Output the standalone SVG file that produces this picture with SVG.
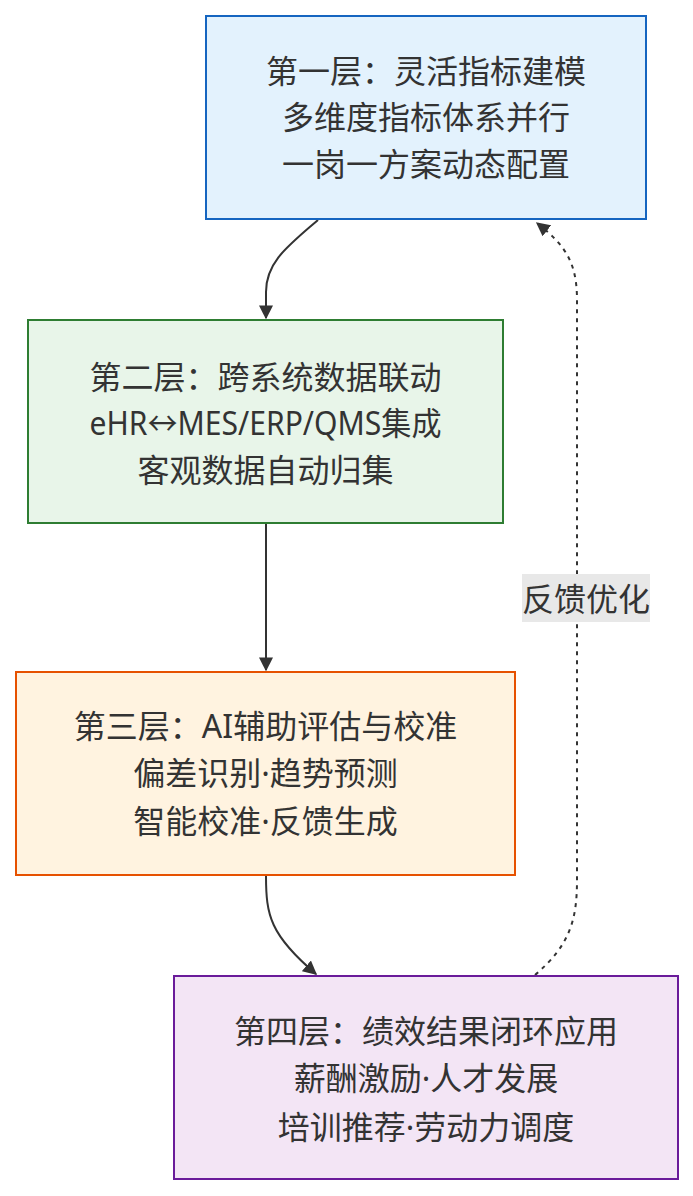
<svg xmlns="http://www.w3.org/2000/svg" width="693" height="1196" viewBox="0 0 693 1196">
<style>
.t{font-family:"Noto Sans","Noto Sans CJK SC",sans-serif;font-size:32px;fill:#333;text-anchor:middle;dominant-baseline:central}
.e{fill:none;stroke:#333;stroke-width:2}
.d{stroke-dasharray:4 5}
</style>
<defs>
<marker id="ah" viewBox="0 0 10 10" refX="9" refY="5" markerWidth="7" markerHeight="7" markerUnits="strokeWidth" orient="auto">
<path d="M0,0 L10,5 L0,10 z" fill="#333"/>
</marker>
</defs>
<rect width="693" height="1196" fill="#fff"/>
<g id="connectors">
<path class="e" d="M318,220 C288,246 266,262 266,292 L266,318" marker-end="url(#ah)"/>
<path class="e" d="M266,523 L266,670" marker-end="url(#ah)"/>
<path class="e" d="M266,876 C266,915 270,935 316,974" marker-end="url(#ah)"/>
<path class="e d" d="M535,975 C570,945 577,920 577,880 L577,300 C577,262 565,245 537,223" marker-end="url(#ah)"/>
<g id="edge-label">
<rect x="522" y="574" width="128" height="48" fill="#e8e8e8"/>
<text class="t" x="586" y="598">反馈优化</text>
</g>
</g>
<g id="n1">
<rect x="206" y="16" width="440" height="203" fill="#e3f2fd" stroke="#1565c0" stroke-width="2"/>
<text class="t" x="426" y="70">第一层：灵活指标建模</text>
<text class="t" x="426" y="116">多维度指标体系并行</text>
<text class="t" x="426" y="163">一岗一方案动态配置</text>
</g>
<g id="n2">
<rect x="28" y="320" width="475" height="203" fill="#e8f5e9" stroke="#2e7d32" stroke-width="2"/>
<text class="t" x="265.5" y="376">第二层：跨系统数据联动</text>
<text class="t" x="265.5" y="422" textLength="352" lengthAdjust="spacingAndGlyphs">eHR↔MES/ERP/QMS集成</text>
<text class="t" x="265.5" y="469">客观数据自动归集</text>
</g>
<g id="n3">
<rect x="16" y="672" width="499" height="203" fill="#fff3e0" stroke="#e65100" stroke-width="2"/>
<text class="t" x="265.5" y="725">第三层：AI辅助评估与校准</text>
<text class="t" x="265.5" y="772">偏差识别·趋势预测</text>
<text class="t" x="265.5" y="820">智能校准·反馈生成</text>
</g>
<g id="n4">
<rect x="174" y="976" width="504" height="203" fill="#f3e5f5" stroke="#6a1b9a" stroke-width="2"/>
<text class="t" x="426" y="1030">第四层：绩效结果闭环应用</text>
<text class="t" x="426" y="1077">薪酬激励·人才发展</text>
<text class="t" x="426" y="1126">培训推荐·劳动力调度</text>
</g>
</svg>
